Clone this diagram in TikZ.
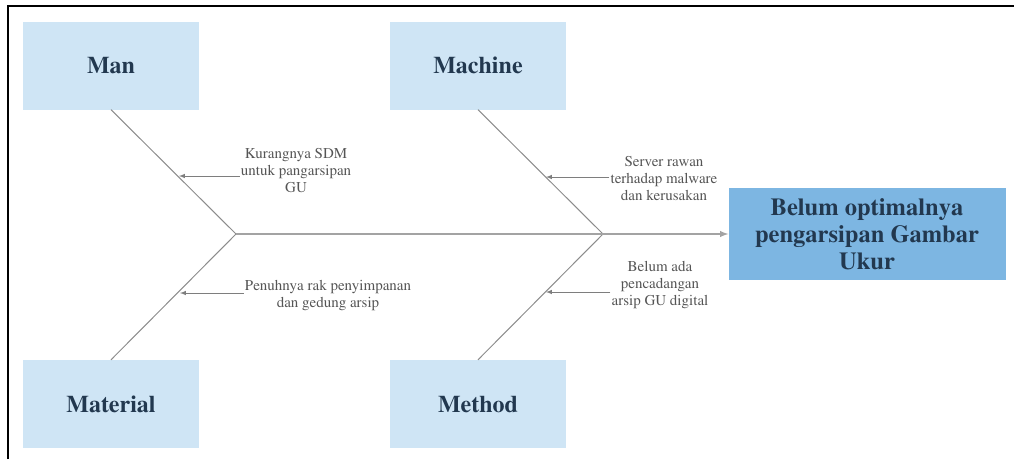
\documentclass[tikz,border=0pt]{standalone}
\usepackage[T1]{fontenc}
\usepackage{mathptmx}
\definecolor{boxlight}{HTML}{CFE5F5}
\definecolor{boxdark}{HTML}{7DB6E2}
\definecolor{labeltext}{HTML}{22384F}
\definecolor{notetext}{HTML}{555555}
\definecolor{linegray}{HTML}{8C8C8C}

\begin{document}
\begin{tikzpicture}[x=1pt, y=-1pt,
    cause_style/.style={rectangle, fill=boxlight, minimum width=176pt, minimum height=88pt,
        text=labeltext, font=\fontsize{24}{28}\selectfont\bfseries},
    effect_style/.style={rectangle, fill=boxdark, minimum width=277pt, minimum height=92pt,
        text=labeltext, align=center, font=\fontsize{24.5}{27}\selectfont\bfseries},
    note_style/.style={align=center, inner sep=1pt, text=notetext,
        font=\fontsize{15}{17}\selectfont},
    bone_style/.style={draw=linegray, line width=1pt},
    spine_style/.style={draw=linegray!80, line width=1.8pt, -latex},
    arrow_style/.style={draw=linegray!90!black, line width=1pt, -latex}]

    \useasboundingbox (0,0) rectangle (1014,459);
    % frame
    \draw[line width=2pt] (8,459) -- (8,6) -- (1014,6);

    \node[cause_style] (man) at (111,65.5) {Man};
    \node[cause_style] (machine) at (478,65.5) {Machine};
    \node[cause_style] (material) at (111,404) {Material};
    \node[cause_style] (method) at (478,404) {Method};
    \node[effect_style] (effect) at (867,234) {Belum optimalnya\\pengarsipan Gambar\\Ukur};

    \coordinate (j1) at (236,234);
    \coordinate (j2) at (603,234);

    % fish bones
    \draw[bone_style] (man.south) -- (j1);
    \draw[bone_style] (material.north) -- (j1);
    \draw[bone_style] (machine.south) -- (j2);
    \draw[bone_style] (method.north) -- (j2);
    \draw[spine_style] (j1) -- (effect.west);

    % causes
    \node[note_style] (c1) at (296,170) {Kurangnya SDM\\untuk pangarsipan\\GU};
    \node[note_style] (c2) at (328,296) {Penuhnya rak penyimpanan\\dan gedung arsip};
    \node[note_style] (c3) at (664,178) {Server rawan\\terhadap malware\\dan kerusakan};
    \node[note_style] (c4) at (660,285) {Belum ada\\pencadangan\\arsip GU digital};

    \coordinate (m1) at (179,176);
    \coordinate (m2) at (180,293);
    \coordinate (m3) at (546,177);
    \coordinate (m4) at (546,292);

    \draw[arrow_style] (c1.west |- m1) -- (m1);
    \draw[arrow_style] (c2.west |- m2) -- (m2);
    \draw[arrow_style] (c3.west |- m3) -- (m3);
    \draw[arrow_style] (c4.west |- m4) -- (m4);
\end{tikzpicture}
\end{document}
